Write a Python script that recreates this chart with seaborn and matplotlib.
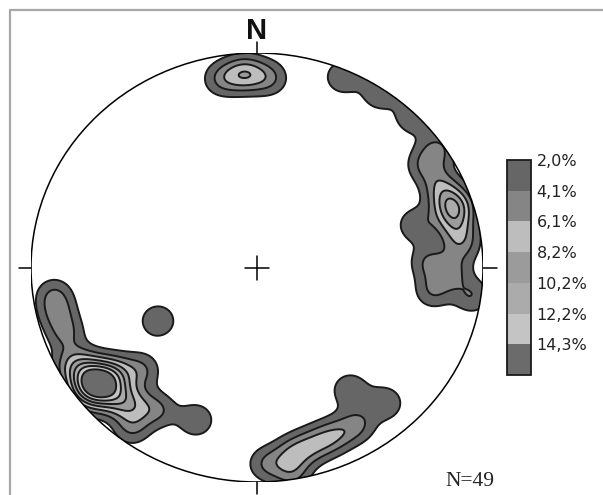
import numpy as np
import matplotlib
matplotlib.use("Agg")
import matplotlib.pyplot as plt
import seaborn as sns
from matplotlib.patches import Circle
from matplotlib.lines import Line2D

# Poles (N = 49) on a lower-hemisphere equal-area net, unit radius, x = east, y = north
pole_x = [-0.159, -0.075, -0.031, 0.058,
          -0.438,
          0.040, 0.146, 0.217, 0.288, 0.358, 0.447, 0.566, 0.412, 0.155,
          0.381, 0.544, 0.690, 0.801, 0.743, 0.810, 0.841, 0.863, 0.885, 0.907,
          0.889, 0.704, 0.757, 0.863, 0.779, 0.951,
          -0.898, -0.881, -0.845,
          -0.735, -0.628, -0.677, -0.686, -0.757, -0.606, -0.827, -0.540, -0.615, -0.743,
          -0.783, -0.695, -0.509, -0.438, -0.270, -0.553]
pole_y = [0.879, 0.902, 0.902, 0.883,
          -0.249,
          -0.916, -0.869, -0.841, -0.809, -0.776, -0.734, -0.632, -0.571, -0.963,
          0.888, 0.814, 0.702, 0.557, 0.478, 0.385, 0.315, 0.249, 0.184, 0.105,
          0.291, 0.198, 0.026, -0.021, -0.110, -0.133,
          -0.128, -0.217, -0.310,
          -0.524, -0.562, -0.492, -0.594, -0.459, -0.627, -0.450, -0.641, -0.483, -0.599,
          -0.548, -0.538, -0.478, -0.664, -0.711, -0.748]
n_poles = len(pole_x)

# Contour intervals (% of poles per counting area) and their fills
contour_levels = [2.0, 4.1, 6.1, 8.2, 10.2, 12.2, 14.3]
band_colors = ["#666666", "#858585", "#bdbdbd", "#9b9b9b", "#ababab", "#c4c4c4", "#6b6b6b"]

# Counting kernel
kernel_sigma = 0.06
kernel_weight = 1.85

sns.set_theme(style="white")
plt.rcParams["font.family"] = ["DejaVu Sans"]

W, H = 603, 495
fig = plt.figure(figsize=(W / 100, H / 100), dpi=100)
fig.patch.set_facecolor("white")

# Net axes: primitive circle spans the unit square in data units
ax = fig.add_axes([31 / W, 13 / H, 452 / W, 429 / H])
ax.set_xlim(-1, 1)
ax.set_ylim(-1, 1)
ax.set_axis_off()

# Smoothed pole density on a grid
g = np.linspace(-1.0, 1.0, 501)
gx, gy = np.meshgrid(g, g)
px = np.asarray(pole_x)
py = np.asarray(pole_y)
d2 = (gx[..., None] - px) ** 2 + (gy[..., None] - py) ** 2
density = 100.0 / n_poles * kernel_weight * np.exp(-d2 / (2 * kernel_sigma ** 2)).sum(axis=-1)

primitive = Circle((0, 0), 1.0, transform=ax.transData, facecolor="none")
fill_levels = contour_levels + [1000.0]
cs = ax.contourf(gx, gy, density, levels=fill_levels, colors=band_colors)
cs.set_clip_path(primitive)
cl = ax.contour(gx, gy, density, levels=contour_levels, colors="#1a1a1a", linewidths=1.4)
cl.set_clip_path(primitive)

# Primitive circle, cardinal ticks and centre cross
ax.add_patch(Circle((0, 0), 1.0, fill=False, edgecolor="black", linewidth=1.1, zorder=5))
rx, ry = 1 / 226, 1 / 214.5
tick_kw = dict(color="black", linewidth=1.1, clip_on=False, zorder=5)
ax.plot([0, 0], [1, 1 + 11 * ry], **tick_kw)
ax.plot([0, 0], [-1, -1 - 12 * ry], **tick_kw)
ax.plot([-1, -1 - 12 * rx], [0, 0], **tick_kw)
ax.plot([1, 1 + 14 * rx], [0, 0], **tick_kw)
ax.plot([-12 * rx, 12 * rx], [0, 0], **tick_kw)
ax.plot([0, 0], [-12 * ry, 12 * ry], **tick_kw)

ax.text(0, 1 + 14 * ry, "N", ha="center", va="baseline", fontsize=21,
        fontweight="bold", family=["Liberation Sans", "DejaVu Sans"], color="#111111")

# Legend bar
cax = fig.add_axes([507 / W, (H - 375) / H, 24 / W, 215 / H])
cbar = fig.colorbar(cs, cax=cax, drawedges=True, spacing="uniform")
cax.invert_yaxis()
cbar.set_ticks(contour_levels)
cbar.set_ticklabels([f"{v:.1f}".replace(".", ",") + "%" for v in contour_levels])
cax.tick_params(length=0, pad=4, labelsize=11.5, labelcolor="#222222")
cbar.outline.set_linewidth(1.3)
cbar.outline.set_edgecolor("#1a1a1a")
cbar.dividers.set_linewidth(1.3)
cbar.dividers.set_color("#1a1a1a")

fig.text(445 / W, (H - 486) / H, f"N={n_poles}", ha="left", va="baseline", fontsize=15.5,
         family=["Liberation Serif", "DejaVu Serif"], color="#222222")

# Page frame lines
fig.add_artist(Line2D([9.5 / W, 1], [1 - 9.5 / H, 1 - 9.5 / H], transform=fig.transFigure,
                      color="#a8a8a8", linewidth=1.6))
fig.add_artist(Line2D([9.5 / W, 9.5 / W], [0, 1 - 9.5 / H], transform=fig.transFigure,
                      color="#a8a8a8", linewidth=1.6))

fig.savefig("out.png", dpi=100, facecolor="white")
